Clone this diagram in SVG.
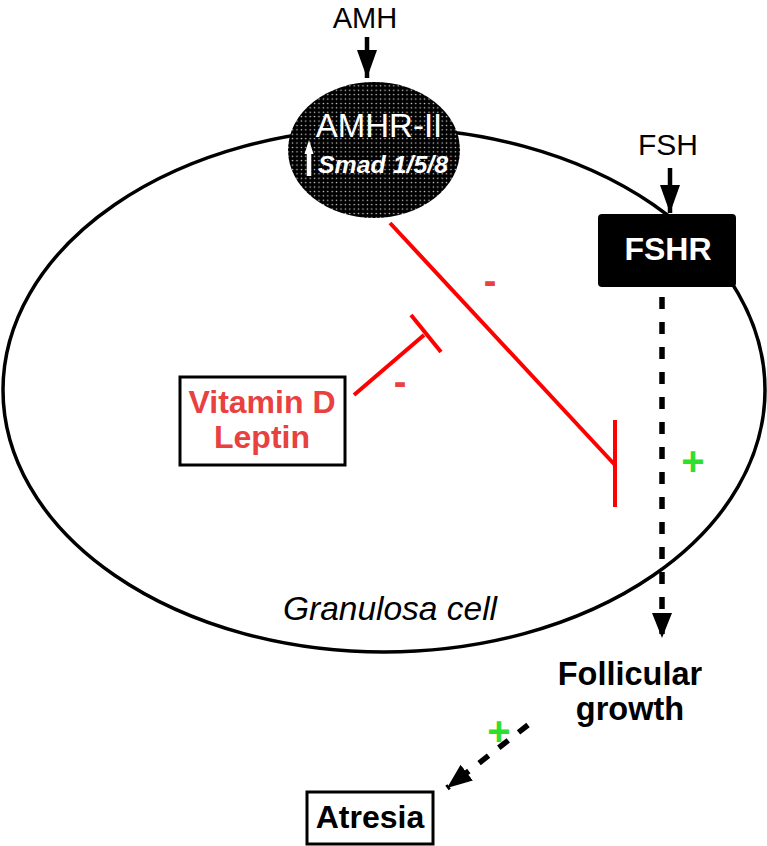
<svg xmlns="http://www.w3.org/2000/svg" width="767" height="846" viewBox="0 0 767 846">
<style>
text{font-family:"Liberation Sans",Arial,sans-serif}
.blk{fill:#000}
.wht{fill:#fff}
.b{font-weight:bold}
.red{fill:#e8413f;font-weight:bold}
.grn{fill:#2de02d;font-weight:bold}
.conn{fill:none;stroke:#000;stroke-width:4.5}
.dash{fill:none;stroke:#000;stroke-width:5.5;stroke-dasharray:12 13}
.inh{fill:none;stroke:#ff0000;stroke-width:4}
.box{fill:#fff;stroke:#000;stroke-width:3}
</style>
<defs>
<pattern id="dots" width="4.4" height="4.4" patternUnits="userSpaceOnUse">
<rect width="4.4" height="4.4" fill="#000"/>
<circle cx="2.2" cy="2.2" r="0.75" fill="#ddd"/>
</pattern>
<marker id="ah" markerUnits="userSpaceOnUse" markerWidth="30" markerHeight="22" refX="28" refY="10" orient="auto" viewBox="0 0 30 20">
<path d="M0,0 L28,10 L0,20 z" fill="#000"/>
</marker>
<marker id="ah2" markerUnits="userSpaceOnUse" markerWidth="26" markerHeight="22" refX="25" refY="10" orient="auto" viewBox="0 0 26 20">
<path d="M0,0 L25,10 L0,20 z" fill="#000"/>
</marker>
</defs>
<rect width="767" height="846" fill="#fff"/>

<g id="cell">
<ellipse cx="384" cy="390" rx="381" ry="262" fill="none" stroke="#000" stroke-width="3.5"/>
<text x="390" y="620" font-size="33.5" font-style="italic" text-anchor="middle" class="blk">Granulosa cell</text>
</g>

<g id="connectors">
<line class="conn" x1="367" y1="37" x2="367" y2="78" marker-end="url(#ah)"/>
<line class="conn" x1="670" y1="168" x2="670" y2="213" marker-end="url(#ah)"/>
<line class="dash" x1="662" y1="297" x2="662" y2="638" marker-end="url(#ah2)"/>
<line class="dash" x1="528" y1="725" x2="447" y2="788" marker-end="url(#ah2)"/>
<line class="inh" x1="390" y1="223" x2="615" y2="465"/>
<line class="inh" x1="615" y1="420" x2="615" y2="507"/>
<line class="inh" x1="354" y1="395" x2="424" y2="335"/>
<line class="inh" x1="411" y1="315" x2="441" y2="352"/>
<text x="490" y="294" font-size="38" text-anchor="middle" class="red">-</text>
<text x="400" y="395" font-size="38" text-anchor="middle" class="red">-</text>
<text x="693" y="475" font-size="40" text-anchor="middle" class="grn">+</text>
<text x="499" y="745" font-size="40" text-anchor="middle" class="grn">+</text>
</g>

<g id="amh">
<text x="365" y="28" font-size="29" text-anchor="middle" class="blk">AMH</text>
</g>

<g id="amhr">
<ellipse cx="374" cy="150" rx="86" ry="68" fill="url(#dots)"/>
<text x="379" y="137" font-size="33" text-anchor="middle" class="wht">AMHR-II</text>
<line x1="309" y1="176" x2="309" y2="150" stroke="#fff" stroke-width="4.5"/>
<path d="M304.5,154 L309,140 L313.5,154 z" fill="#fff"/>
<text x="318" y="173" font-size="23" font-style="italic" font-weight="bold" class="wht" textLength="130" lengthAdjust="spacingAndGlyphs">Smad 1/5/8</text>
</g>

<g id="fsh">
<text x="668" y="155" font-size="30" text-anchor="middle" class="blk">FSH</text>
</g>

<g id="fshr">
<rect x="598" y="214" width="138" height="73" rx="4" fill="#000"/>
<text x="668" y="260" font-size="32" text-anchor="middle" class="wht b">FSHR</text>
</g>

<g id="vitd">
<rect class="box" x="180" y="377" width="165" height="88"/>
<text x="262" y="413" font-size="32" text-anchor="middle" class="red">Vitamin D</text>
<text x="262" y="448" font-size="32" text-anchor="middle" class="red">Leptin</text>
</g>

<g id="follicular">
<text x="630" y="685" font-size="32.5" text-anchor="middle" class="blk b">Follicular</text>
<text x="630" y="720" font-size="32.5" text-anchor="middle" class="blk b">growth</text>
</g>

<g id="atresia">
<rect class="box" x="307" y="792" width="126" height="52"/>
<text x="370" y="828" font-size="32" text-anchor="middle" class="blk b">Atresia</text>
</g>
</svg>
